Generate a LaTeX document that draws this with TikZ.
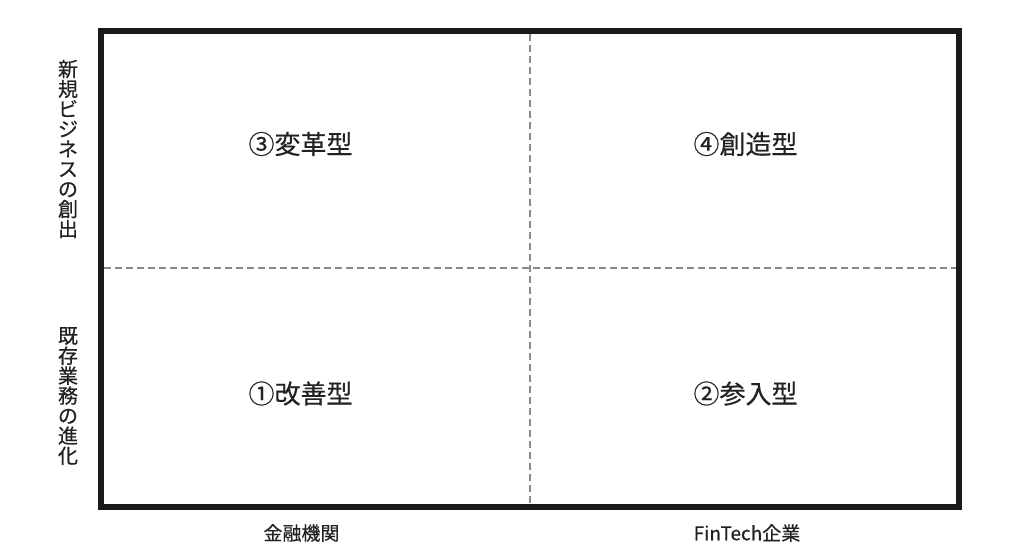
\documentclass[tikz,border=0pt]{standalone}
\usepackage{fontspec}
\newfontfamily\jpfont[FakeBold=0.5]{Noto Sans CJK JP}
\usepackage{tikz}
\definecolor{framegray}{HTML}{1A1A1A}
\definecolor{dashgray}{HTML}{8A8A8A}
\definecolor{textgray}{HTML}{222222}
\tikzset{
	quadlabel/.style={text=textgray, font=\jpfont\fontsize{26}{28}\selectfont, inner sep=0pt},
	sidelabel/.style={text=textgray, font=\jpfont\fontsize{20}{20}\selectfont, align=center, inner sep=0pt},
	axislabel/.style={text=textgray, font=\jpfont\fontsize{19}{21}\selectfont, inner sep=0pt},
	divider/.style={dashgray, line width=1.6pt, dash pattern=on 7pt off 4pt}
}

\begin{document}
\begin{tikzpicture}[x=1pt, y=-1pt]
			\useasboundingbox (0, 0) rectangle (1030, 552);
			% frame and dividers
			\coordinate (nw) at (101, 31);
			\coordinate (se) at (958.5, 506.5);
			\coordinate (top) at (530, 34);
			\coordinate (bottom) at (530, 504);
			\coordinate (left) at (104, 268);
			\coordinate (right) at (955.5, 268);
			\draw[divider] (top) -- (bottom);
			\draw[divider] (left) -- (right);
			\draw[framegray, line width=6pt] (nw) rectangle (se);
			% quadrants
			\node[quadlabel] (q3) at (300.5, 144) {③変革型};
			\node[quadlabel] (q4) at (745.5, 144) {④創造型};
			\node[quadlabel] (q1) at (300.5, 393.5) {①改善型};
			\node[quadlabel] (q2) at (745.5, 393.5) {②参入型};
			% axes
			\node[sidelabel] (new) at (68, 149) {新\\規\\ビ\\ジ\\ネ\\ス\\の\\創\\出};
			\node[sidelabel] (old) at (68, 396) {既\\存\\業\\務\\の\\進\\化};
			\node[axislabel] (bank) at (301.5, 533) {金融機関};
			\node[axislabel] (fintech) at (747, 533) {FinTech企業};
		\end{tikzpicture}
\end{document}
